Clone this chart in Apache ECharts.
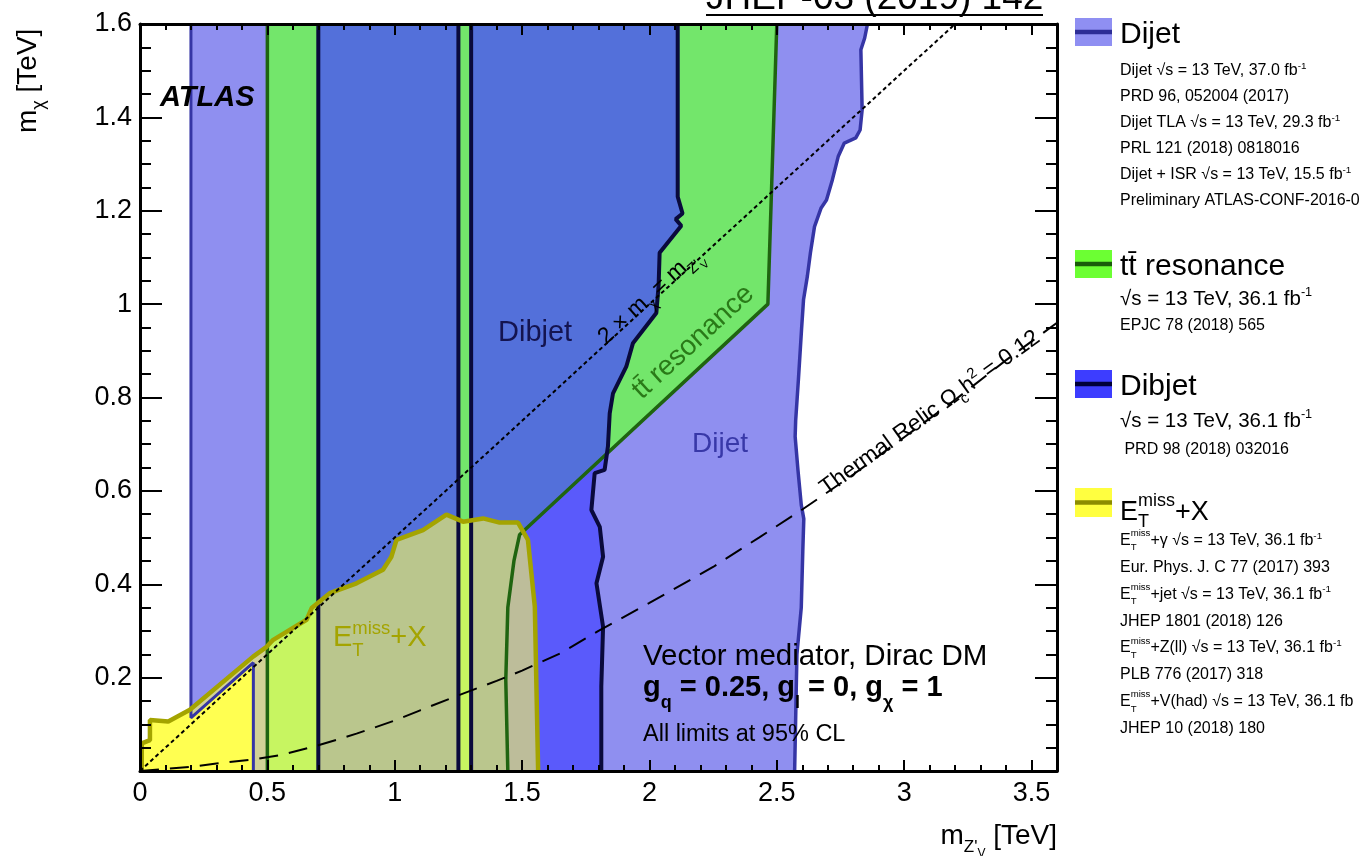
<!DOCTYPE html>
<html><head><meta charset="utf-8">
<script src="https://cdn.jsdelivr.net/npm/echarts@6/dist/echarts.min.js"></script>
<style>html,body{margin:0;padding:0;background:#fff}#c{width:1359px;height:856px}</style>
</head><body><div id="c"></div>
<script>
const FONT = '"Liberation Sans", Arial, Helvetica, sans-serif';

// ---------------- data (TeV) ----------------
const xRange = [0, 3.6];
const yRange = [0, 1.6];
const xMajor = 0.5, xMinor = 0.1, yMajor = 0.2;

const dijetEdgeLeft = [[0.2,1.6],[0.2,0.114],[0.445,0.232],[0.445,0]];
const dijetEdgeRight = [[2.570,0],[2.579,0.25],[2.596,0.35],[2.602,0.47],[2.606,0.54],[2.596,0.57],[2.583,0.645],[2.572,0.716],[2.574,0.75],[2.585,0.84],[2.597,0.945],[2.605,1.01],[2.62,1.06],[2.632,1.11],[2.648,1.166],[2.674,1.206],[2.695,1.223],[2.718,1.266],[2.741,1.316],[2.765,1.345],[2.81,1.356],[2.827,1.373],[2.835,1.416],[2.83,1.545],[2.845,1.57],[2.856,1.6]];

const ttEdgeLeft = [[0.5,0],[0.5,1.6]];
const ttEdgeRight = [[1.444,0],[1.436,0.195],[1.444,0.35],[1.468,0.45],[1.49,0.506],[2.465,1.0],[2.5,1.6]];

const dibjetEdgeA = [[0.7,0],[0.7,1.6]];
const dibjetEdgeB = [[1.25,0],[1.25,1.6]];
const dibjetEdgeC = [[1.3,0],[1.3,1.6]];
const dibjetEdgeRight = [[1.811,0],[1.811,0.181],[1.818,0.309],[1.792,0.402],[1.818,0.459],[1.805,0.523],[1.772,0.559],[1.785,0.638],[1.824,0.645],[1.837,0.695],[1.844,0.766],[1.857,0.809],[1.909,0.866],[1.935,0.916],[2.027,0.981],[2.036,1.04],[2.04,1.11],[2.125,1.168],[2.103,1.182],[2.13,1.194],[2.111,1.23],[2.111,1.6]];

const etmissEdge = [[0.007,0],[0.007,0.059],[0.039,0.066],[0.039,0.109],[0.111,0.106],[0.196,0.131],[0.444,0.245],[0.497,0.266],[0.523,0.281],[0.654,0.324],[0.674,0.349],[0.745,0.381],[0.85,0.402],[0.954,0.431],[0.987,0.459],[1.007,0.495],[1.111,0.516],[1.203,0.549],[1.268,0.534],[1.347,0.541],[1.412,0.532],[1.484,0.532],[1.523,0.495],[1.55,0.352],[1.563,0]];

const relicLine = [[0,0],[0.2,0.009],[0.3,0.016],[0.45,0.025],[0.56,0.035],[0.7,0.055],[0.85,0.08],[1.0,0.108],[1.1,0.13],[1.25,0.162],[1.4,0.193],[1.5,0.215],[1.65,0.252],[1.8,0.3],[2.0,0.36],[2.25,0.437],[2.43,0.5],[2.6,0.56],[2.8,0.635],[3.0,0.715],[3.2,0.795],[3.4,0.88],[3.6,0.96]];
const diagonalLine = [[0,0],[3.2,1.6]];

// legend notes: [E_T^miss prefix, text, superscript -1]
const notesDijet = [[0,'Dijet \u221As = 13 TeV, 37.0 fb',1],[0,'PRD 96, 052004 (2017)',0],[0,'Dijet TLA \u221As = 13 TeV, 29.3 fb',1],[0,'PRL 121 (2018) 0818016',0],[0,'Dijet + ISR \u221As = 13 TeV, 15.5 fb',1],[0,'Preliminary ATLAS-CONF-2016-0',0]];
const notesTT = [[0,'\u221As = 13 TeV, 36.1 fb',1],[0,'EPJC 78 (2018) 565',0]];
const notesDibjet = [[0,'\u221As = 13 TeV, 36.1 fb',1],[0,' PRD 98 (2018) 032016',0]];
const notesEtmiss = [[1,'+\u03b3 \u221As = 13 TeV, 36.1 fb',1],[0,'Eur. Phys. J. C 77 (2017) 393',0],[1,'+jet \u221As = 13 TeV, 36.1 fb',1],[0,'JHEP 1801 (2018) 126',0],[1,'+Z(ll) \u221As = 13 TeV, 36.1 fb',1],[0,'PLB 776 (2017) 318',0],[1,'+V(had) \u221As = 13 TeV, 36.1 fb',0],[0,'JHEP 10 (2018) 180',0]];

// ---------------- derived regions ----------------
const dijetRegion = dijetEdgeLeft.concat(dijetEdgeRight);
const ttRegion = ttEdgeLeft.slice().reverse().concat(ttEdgeRight);
const dibjetRegionA = dibjetEdgeA.concat(dibjetEdgeB.slice().reverse());
const dibjetRegionB = dibjetEdgeC.slice().reverse().concat(dibjetEdgeRight);
const etmissRegion = etmissEdge;

// ---------------- text helpers ----------------
const mctx = document.createElement('canvas').getContext('2d');
function tw(t, s, w, st) { mctx.font = (st||'normal') + ' ' + (w||'normal') + ' ' + s + 'px ' + FONT; return mctx.measureText(t).width; }
function compose(frags, color) {
  let x = 0, stackW = 0; const els = [];
  frags.forEach(f => {
    const s = f.s, dy = f.dy || 0;
    els.push({type:'text', x: x, y: dy - 0.3465*s, z: 100,
      style:{text:f.t, font:(f.st||'normal')+' '+(f.w||'normal')+' '+s+'px '+FONT, fill:f.fill||color,
             align:'left', verticalAlign:'middle', textAlign:'left', textVerticalAlign:'middle'}});
    const w = tw(f.t, s, f.w, f.st);
    if (f.stack) stackW = Math.max(stackW, w);
    else { x += Math.max(w, stackW); stackW = 0; }
  });
  return {els, width: x};
}
function tg(frags, color, x, y, opts) {
  opts = opts || {};
  const c = compose(frags, color);
  let dx = 0;
  if (opts.align === 'center') dx = -c.width/2;
  else if (opts.align === 'right') dx = -c.width;
  c.els.forEach(e => { e.x += dx; e.y += (opts.dyBase||0); });
  return {type:'group', x, y, rotation: opts.rot||0, z:100, children: c.els};
}
function note(item, size, x, base) {
  const fr = [];
  if (item[0]) { fr.push({t:'E',s:size},{t:'miss',s:size*0.6,dy:-size*0.58,stack:true},{t:'T',s:size*0.6,dy:size*0.32}); }
  fr.push({t:item[1], s:size});
  if (item[2]) fr.push({t:'-1', s:size*0.62, dy:-size*0.42});
  return tg(fr, '#000', x, base);
}
function legendBox(y, h, fill, line) {
  return [
    {type:'rect', z:100, shape:{x:1075, y:y, width:37, height:h}, style:{fill:fill}},
    {type:'rect', z:101, shape:{x:1075, y:y + h/2 - 2.2, width:37, height:4.4}, style:{fill:line}}
  ];
}

// ---------------- series ----------------
function fill(data, color, z) {
  return {type:'custom', coordinateSystem:'cartesian2d', clip:true, silent:true, animation:false, z:z, data:[[0,0]],
    renderItem:(p, api) => ({type:'polygon', shape:{points:data.map(pt => api.coord(pt))}, style:{fill:color}})};
}
function edge(data, color, width, z, dash) {
  return {type:'line', data:data, showSymbol:false, symbol:'none', silent:true, animation:false, z:z, clip:true,
    lineStyle:{color:color, width:width, type:dash||'solid', cap:'butt'}};
}

const series = [
  fill(etmissRegion, '#ffff44', 1),
  fill(dijetRegion, '#8f8ff0', 2),
  fill(ttRegion, '#73e66b', 2),
  fill(dibjetRegionA, 'rgba(72,72,255,0.75)', 2),
  fill(dibjetRegionB, 'rgba(72,72,255,0.75)', 2),
  fill(etmissRegion, 'rgba(255,255,90,0.6)', 3),
  edge(dijetEdgeLeft, '#3535a5', 3, 4),
  edge(dijetEdgeRight, '#3535a5', 3.5, 4),
  edge(ttEdgeLeft, '#1f6410', 3.5, 4),
  edge(ttEdgeRight, '#1f6410', 3.5, 4),
  edge(dibjetEdgeA, '#0a0a3c', 4, 4),
  edge(dibjetEdgeB, '#0a0a3c', 4, 4),
  edge(dibjetEdgeC, '#0a0a3c', 4, 4),
  edge(dibjetEdgeRight, '#0a0a3c', 4, 4),
  edge(etmissEdge, '#a4a400', 4.5, 5),
  edge(diagonalLine, '#000', 2, 6, [4,3]),
  edge(relicLine, '#000', 2, 6, [19,11])
];

// ---------------- axes ----------------
const labelStyle = {fontFamily:FONT, fontSize:27, color:'#000'};
const tickLine = {color:'#000', width:2};
function fmtX(v) { return Math.abs(v/xMajor - Math.round(v/xMajor)) < 1e-6 ? String(Math.round(v*10)/10) : ''; }
function fmtY(v) { return v < 1e-9 ? '' : String(Math.round(v*10)/10); }
function xAx(pos, interval, major, labels) {
  return {type:'value', position:pos, min:xRange[0], max:xRange[1], interval:interval, z:10,
    axisLine:{show:major, onZero:false, lineStyle:{color:'#000', width:3}},
    axisTick:{show:true, inside:true, length: major ? 11 : 6, lineStyle:tickLine},
    axisLabel: labels ? Object.assign({show:true, margin:9, formatter:fmtX}, labelStyle) : {show:false},
    splitLine:{show:false}};
}
function yAx(pos, labels) {
  return {type:'value', position:pos, min:yRange[0], max:yRange[1], interval:yMajor, z:10,
    axisLine:{show:true, onZero:false, lineStyle:{color:'#000', width:3}},
    axisTick:{show:true, inside:true, length:22, lineStyle:tickLine},
    minorTick:{show:true, splitNumber:4, length:11, lineStyle:tickLine},
    axisLabel: labels ? Object.assign({show:true, margin:8, formatter:fmtY}, labelStyle) : {show:false},
    splitLine:{show:false}, minorSplitLine:{show:false}};
}

// ---------------- graphic (labels & legend) ----------------
const G = [];
G.push(tg([{t:'JHEP-03 (2019) 142', s:37}], '#000', 706, 12));
G.push({type:'line', z:100, shape:{x1:706, y1:15, x2:1043, y2:15}, style:{stroke:'#000', lineWidth:2}});
G.push(tg([{t:'ATLAS', s:29, w:'bold', st:'italic'}], '#000', 160, 108));
G.push(tg([{t:'Dibjet', s:29}], '#141450', 498, 343));
G.push(tg([{t:'Dijet', s:28}], '#3838a8', 692, 454));
G.push(tg([{t:'tt\u0304 resonance', s:28}], '#2a7a18', 693, 342, {align:'center', dyBase:10, rot:0.743}));
G.push(tg([{t:'2 \u00d7 m', s:23},{t:'\u03c7', s:15, dy:6},{t:' = m', s:23},{t:"Z'", s:15, dy:6},{t:'V', s:11, dy:10}], '#000', 650, 296, {align:'center', dyBase:8, rot:0.742}));
G.push(tg([{t:'Thermal Relic \u03a9', s:23},{t:'c', s:15, dy:6},{t:'h', s:23},{t:'2', s:15, dy:-10},{t:' = 0.12', s:23}], '#000', 930, 413, {align:'center', dyBase:8, rot:0.625}));
G.push(tg([{t:'E', s:29},{t:'miss', s:18.5, dy:-13, stack:true},{t:'T', s:18.5, dy:9},{t:'+X', s:29}], '#a4a400', 333, 648));
G.push(tg([{t:'Vector mediator, Dirac DM', s:29.5}], '#000', 643, 667));
G.push(tg([{t:'g', s:29, w:'bold'},{t:'q', s:18, w:'bold', dy:11},{t:' = 0.25, g', s:29, w:'bold'},{t:'l', s:18, w:'bold', dy:11},{t:' = 0, g', s:29, w:'bold'},{t:'\u03c7', s:18, w:'bold', dy:11},{t:' = 1', s:29, w:'bold'}], '#000', 643, 698));
G.push(tg([{t:'All limits at 95% CL', s:23.5}], '#000', 643, 743));
// axis titles
G.push(tg([{t:'m', s:28},{t:'\u03c7', s:18, dy:7},{t:' [TeV]', s:28}], '#000', 38, 133, {rot:Math.PI/2}));
G.push(tg([{t:'m', s:28},{t:"Z'", s:17, dy:7},{t:'V', s:12, dy:12},{t:' [TeV]', s:28}], '#000', 1057, 846, {align:'right'}));
// legend
legendBox(18, 28, '#8f8ff2', '#2d2d96').forEach(e => G.push(e));
G.push(tg([{t:'Dijet', s:30}], '#000', 1120, 45));
notesDijet.forEach((n, i) => G.push(note(n, 16, 1120, 76 + 26*i)));
legendBox(250, 28, '#6cff33', '#1a5c0a').forEach(e => G.push(e));
G.push(tg([{t:'tt\u0304 resonance', s:30}], '#000', 1120, 277));
G.push(note(notesTT[0], 20.5, 1120, 306));
G.push(note(notesTT[1], 16, 1120, 331));
legendBox(370, 28, '#3d3dff', '#000038').forEach(e => G.push(e));
G.push(tg([{t:'Dibjet', s:30}], '#000', 1120, 397));
G.push(note(notesDibjet[0], 20.5, 1120, 428));
G.push(note(notesDibjet[1], 16, 1120, 455));
legendBox(488, 29, '#ffff40', '#8c8c00').forEach(e => G.push(e));
G.push(tg([{t:'E', s:27},{t:'miss', s:18, dy:-15, stack:true},{t:'T', s:18, dy:6},{t:'+X', s:27}], '#000', 1120, 522));
notesEtmiss.forEach((n, i) => G.push(note(n, 16, 1120, 546 + 26.9*i)));

const chart = echarts.init(document.getElementById('c'), null, {renderer:'canvas'});
chart.setOption({
  animation:false,
  backgroundColor:'#fff',
  grid:{left:140, top:24, width:917, height:747, containLabel:false, outerBoundsMode:'none'},
  xAxis:[xAx('bottom', xMajor, true, true), xAx('bottom', xMinor, false, false), xAx('top', xMajor, true, false), xAx('top', xMinor, false, false)],
  yAxis:[yAx('left', true), yAx('right', false)],
  series: series,
  graphic:{elements:G}
});
</script>
</body></html>
